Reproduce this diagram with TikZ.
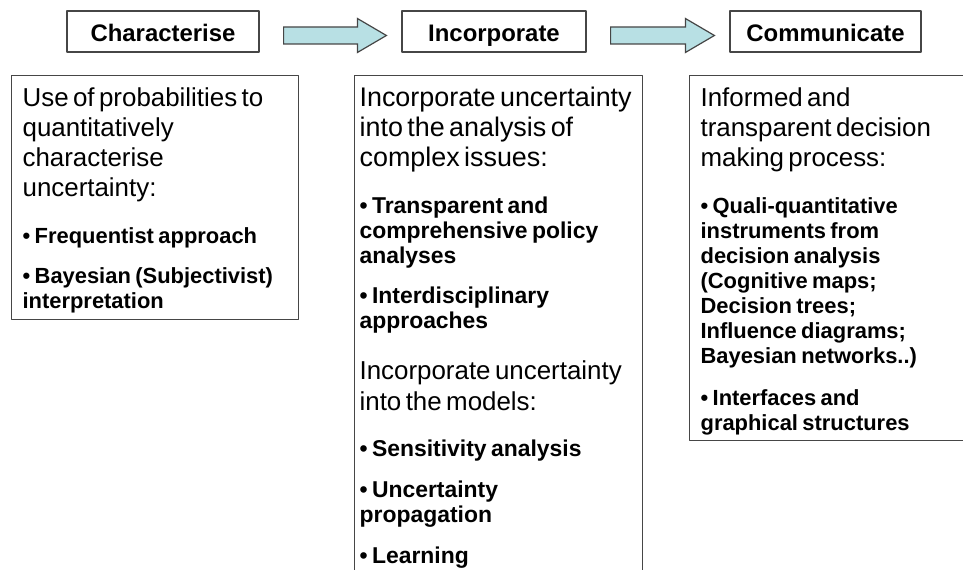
\documentclass[tikz,border=0pt]{standalone}
\usepackage{fontspec}
\setmainfont{Liberation Sans}[WordSpace=1.2]
\usetikzlibrary{calc}
\definecolor{edgegray}{RGB}{70,70,70}
\definecolor{flowfill}{RGB}{184,224,228}
\tikzset{
  title/.style={draw=edgegray,line width=0.9bp,minimum height=30.75bp,inner sep=0pt,
    text height=15.75bp,text depth=0bp,font=\fontsize{18}{21}\selectfont\bfseries},
  panel/.style={draw=edgegray,line width=0.9bp,anchor=north west,align=left,
    inner xsep=8.25bp,inner ysep=4.5bp},
  flow/.style={draw=edgegray,line width=0.9bp,fill=flowfill,line join=miter},
}
\newcommand{\leadfont}{\fontsize{19.5}{22.5}\selectfont}
\newcommand{\pointfont}{\fontsize{16.5}{18.75}\selectfont\bfseries}
\newcommand{\topstrut}{\rule{0pt}{18.75bp}}
\newcommand{\leadtext}[2][0pt]{\vspace{#1}{\leadfont #2\par}}
\newcommand{\pointtext}[2][12pt]{\vspace{#1}{\pointfont\textbullet\ #2\par}}
\newcommand{\blockarrow}[2]{%
  \draw [flow] ($(#1.east)+(18bp,3.375bp)$) -- ($(#2.west)+(-33bp,3.375bp)$)
    -- ($(#2.west)+(-33bp,9.75bp)$) -- ($(#2.west)+(-11.25bp,-3bp)$)
    -- ($(#2.west)+(-33bp,-15.75bp)$) -- ($(#2.west)+(-33bp,-9.375bp)$)
    -- ($(#1.east)+(18bp,-9.375bp)$) -- cycle;}
\begin{document}
\begin{tikzpicture}[line join=bevel,]
%%
\useasboundingbox (0bp,0bp) rectangle (722.25bp,427.5bp);
\clip (0bp,0bp) rectangle (722.25bp,427.5bp);
\node (node_char) at (122.25bp,403.875bp) [title,minimum width=144bp] {Characterise};
  \node (node_inc) at (370.5bp,403.875bp) [title,minimum width=138bp] {Incorporate};
  \node (node_comm) at (619.125bp,403.875bp) [title,minimum width=143.25bp] {Communicate};
  \node (node_use) at (8.25bp,371.25bp) [panel,text width=198.75bp] {%
    \leadtext{\topstrut Use of probabilities to\\quantitatively\\characterise\\uncertainty:}
    \pointtext[16.5pt]{Frequentist approach}
    \pointtext{Bayesian (Subjectivist)\\interpretation}};
  \node (node_into) at (265.5bp,371.25bp) [panel,inner xsep=3.75bp,text width=208.5bp] {%
    \renewcommand{\leadfont}{\fontsize{20.25}{22.5}\selectfont}%
    \renewcommand{\pointfont}{\fontsize{17.25}{18.75}\selectfont\bfseries}%
    \leadtext{\topstrut Incorporate uncertainty\\into the analysis of\\complex issues:}
    \pointtext[16.5pt]{Transparent and\\comprehensive policy\\analyses}
    \pointtext{Interdisciplinary\\approaches}
    \renewcommand{\leadfont}{\fontsize{19.5}{23.25}\selectfont}%
    \leadtext[15pt]{Incorporate uncertainty\\into the models:}
    \pointtext[16pt]{Sensitivity analysis}
    \pointtext{Uncertainty\\propagation}
    \pointtext{Learning}
    \vspace{40pt}\noindent\rule{0pt}{1pt}};
  \node (node_info) at (516.75bp,371.25bp) [panel,text width=207bp] {%
    \leadtext{\topstrut Informed and\\transparent decision\\making process:}
    \pointtext[17pt]{Quali-quantitative\\instruments from\\decision analysis\\(Cognitive maps;\\Decision trees;\\Influence diagrams;\\Bayesian networks..)}
    \pointtext[12.75pt]{Interfaces and\\graphical structures}};
  \blockarrow{node_char}{node_inc}
  \blockarrow{node_inc}{node_comm}
%
\end{tikzpicture}
\end{document}
